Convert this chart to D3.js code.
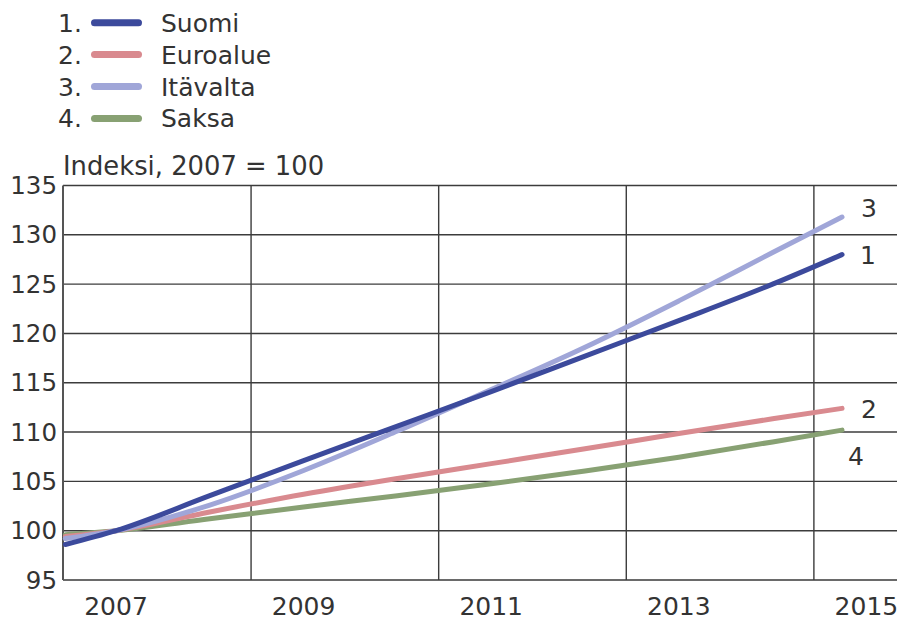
<!DOCTYPE html>
<html>
<head>
<meta charset="utf-8">
<script src="https://cdn.jsdelivr.net/npm/d3@7"></script>
<style>
  body { margin: 0; background: #fff; }
  text { font-family: "DejaVu Sans", sans-serif; fill: #333; }
</style>
</head>
<body>
<svg width="899" height="620"></svg>
<script>
// x values: years (first and last points are part-years where lines start / end)
const years = [2006.46, 2007, 2008, 2009, 2010, 2011, 2012, 2013, 2014, 2014.74];
const suomi     = [98.6, 100, 103.55, 107.1, 110.6, 114.1, 117.7, 121.3, 125.0, 128.0];
const euroalue  = [99.4, 100, 101.9, 103.7, 105.3, 106.8, 108.3, 109.85, 111.35, 112.4];
const itavalta  = [99.2, 100, 102.6, 106.1, 110.1, 114.3, 118.6, 123.3, 128.2, 131.8];
const saksa     = [99.6, 100, 101.2, 102.4, 103.55, 104.75, 106.05, 107.45, 109.0, 110.2];

const seriesNames = ["Suomi", "Euroalue", "Itävalta", "Saksa"];
const seriesNums = ["1", "2", "3", "4"];
const seriesColors = ["#3c4a9c", "#d98a8f", "#a0a6d8", "#88a173"];

const yTicks = [95, 100, 105, 110, 115, 120, 125, 130, 135];
const xLabels = [2007, 2009, 2011, 2013, 2015];
const gridYears = [2008.44, 2010.44, 2012.44, 2014.44];

const svg = d3.select("svg");

const x = d3.scaleLinear().domain([2006.435, 2015.326]).range([63, 897]);
const y = d3.scaleLinear().domain([95, 135]).range([580, 185.5]);

// horizontal grid
svg.append("g").selectAll("line").data(yTicks).join("line")
  .attr("x1", x.range()[0]).attr("x2", x.range()[1])
  .attr("y1", d => y(d)).attr("y2", d => y(d))
  .attr("stroke", d => d == 95 ? "#6a6a6a" : "#3c3c3c")
  .attr("stroke-width", d => d == 95 ? 2 : 1.4);

// vertical grid
svg.append("g").selectAll("line").data(gridYears).join("line")
  .attr("x1", d => x(d)).attr("x2", d => x(d))
  .attr("y1", y(135)).attr("y2", y(95))
  .attr("stroke", "#3c3c3c").attr("stroke-width", 1.4);

// left axis line
svg.append("line")
  .attr("x1", x.range()[0]).attr("x2", x.range()[0])
  .attr("y1", y(135)).attr("y2", y(95))
  .attr("stroke", "#555").attr("stroke-width", 2);

// y tick labels
svg.append("g").selectAll("text").data(yTicks).join("text")
  .attr("x", 57).attr("y", d => y(d) + 8.5)
  .attr("text-anchor", "end")
  .style("font-size", "24.5px")
  .text(d => d);

// x labels
svg.append("g").selectAll("text").data(xLabels).join("text")
  .attr("x", d => x(d)).attr("y", 615)
  .attr("text-anchor", "middle")
  .style("font-size", "25px")
  .text(d => d);

// title
svg.append("text")
  .attr("x", 63).attr("y", 175)
  .style("font-size", "25.8px")
  .text("Indeksi, 2007 = 100");

// lines
const allValues = [suomi, euroalue, itavalta, saksa];
const line = d3.line()
  .x((d, i) => x(years[i]))
  .y(d => y(d))
  .curve(d3.curveMonotoneX);

// draw order: Saksa, Euroalue, Itävalta, Suomi (Suomi on top near start)
const order = [3, 1, 2, 0];
svg.append("g").selectAll("path").data(order).join("path")
  .attr("d", i => line(allValues[i]))
  .attr("fill", "none")
  .attr("stroke", i => seriesColors[i])
  .attr("stroke-width", 5)
  .attr("stroke-linecap", "round");

// end labels
const endOffsets = [
  {dx: 18, dy: 9},   // 1
  {dx: 19, dy: 10},  // 2
  {dx: 19, dy: 0},   // 3
  {dx: 6, dy: 35}    // 4
];
svg.append("g").selectAll("text").data(order).join("text")
  .attr("x", i => x(years[years.length - 1]) + endOffsets[i].dx)
  .attr("y", i => y(allValues[i][allValues[i].length - 1]) + endOffsets[i].dy)
  .style("font-size", "25px")
  .text(i => seriesNums[i]);

// legend
const legend = svg.append("g");
seriesNames.forEach((name, i) => {
  const cy = 22.7 + i * 31.9;
  legend.append("text")
    .attr("x", 58).attr("y", cy + 9)
    .style("font-size", "25px")
    .text(seriesNums[i] + ".");
  legend.append("line")
    .attr("x1", 94.5).attr("x2", 138.5)
    .attr("y1", cy).attr("y2", cy)
    .attr("stroke", seriesColors[i])
    .attr("stroke-width", 7)
    .attr("stroke-linecap", "round");
  legend.append("text")
    .attr("x", 161).attr("y", cy + 9)
    .style("font-size", "25px")
    .text(name);
});
</script>
</body>
</html>
